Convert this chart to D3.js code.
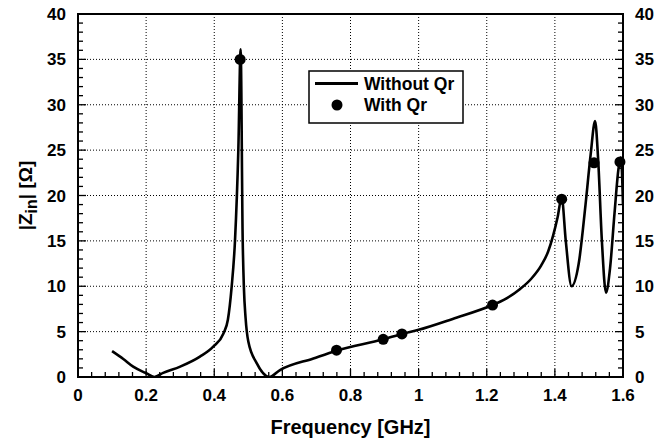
<!DOCTYPE html>
<html>
<head>
<meta charset="utf-8">
<script src="https://cdn.jsdelivr.net/npm/d3@7"></script>
<style>
  body { margin: 0; background: #fff; }
  text { font-family: "Liberation Sans", Arial, sans-serif; font-weight: bold; fill: #000; }
</style>
</head>
<body>
<div id="chart"></div>
<script>
// curve "Without Qr" : frequency [GHz] and |Zin| [ohm]
const FREQ = [0.100, 0.133, 0.162, 0.200, 0.224, 0.250, 0.300, 0.358, 0.397, 0.427,
  0.440, 0.451, 0.461, 0.4707, 0.4775, 0.4835, 0.487, 0.492, 0.500, 0.525,
  0.5617, 0.593, 0.691, 0.759, 0.896, 0.951, 1.000, 1.100, 1.217, 1.250,
  1.298, 1.330, 1.360, 1.380, 1.395, 1.408, 1.420, 1.432, 1.449, 1.470,
  1.490, 1.505, 1.518, 1.527, 1.538, 1.550, 1.562, 1.575, 1.587, 1.594, 1.600];
const ZIN = [2.85, 1.98, 1.14, 0.42, 0.0, 0.45, 1.14, 2.24, 3.34, 4.8,
  6.3, 9.9, 15.1, 25, 36.1, 15.1, 9.9, 6.5, 3.9, 1.5,
  0.0, 0.77, 2.05, 2.9, 4.15, 4.74, 5.2, 6.4, 7.93, 8.5,
  9.7, 10.8, 12.3, 13.8, 15.6, 17.6, 19.8, 15, 10.0, 12.5,
  19, 24.5, 28.2, 24, 15, 9.3, 12, 18, 23, 24.2, 19];

// points "With Qr"
const QR_FREQ = [0.476, 0.759, 0.896, 0.951, 1.217, 1.420, 1.515, 1.591];
const QR_ZIN = [35.0, 2.95, 4.15, 4.74, 7.93, 19.6, 23.6, 23.7];

const X_TICKS = [0, 0.2, 0.4, 0.6, 0.8, 1, 1.2, 1.4, 1.6];
const Y_TICKS = [0, 5, 10, 15, 20, 25, 30, 35, 40];

const WIDTH = 660;
const HEIGHT = 444;
const margin = { top: 14, right: 37, bottom: 67, left: 78 };
const innerW = WIDTH - margin.left - margin.right;
const innerH = HEIGHT - margin.top - margin.bottom;

const x = d3.scaleLinear().domain([0, 1.6]).range([0, innerW]);
const y = d3.scaleLinear().domain([0, 40]).range([innerH, 0]);

const svg = d3.select("#chart").append("svg")
    .attr("width", WIDTH)
    .attr("height", HEIGHT);

const g = svg.append("g")
    .attr("transform", `translate(${margin.left},${margin.top})`);

g.append("clipPath").attr("id", "clip")
  .append("rect")
    .attr("width", innerW)
    .attr("height", innerH);

// dotted grid
g.selectAll(".gx")
  .data(X_TICKS.slice(1, -1))
  .enter().append("line")
    .attr("x1", d => x(d)).attr("x2", d => x(d))
    .attr("y1", 0).attr("y2", innerH)
    .attr("stroke", "#000").attr("stroke-width", 1)
    .attr("stroke-dasharray", "1,2");

g.selectAll(".gy")
  .data(Y_TICKS.slice(1, -1))
  .enter().append("line")
    .attr("x1", 0).attr("x2", innerW)
    .attr("y1", d => y(d)).attr("y2", d => y(d))
    .attr("stroke", "#000").attr("stroke-width", 1)
    .attr("stroke-dasharray", "1,2");

// ticks (inside)
const xMinor = d3.range(0, 1.6001, 0.04);
const yMinor = d3.range(0, 40.001, 1);

g.selectAll(".tx")
  .data(xMinor)
  .enter().append("line")
    .attr("x1", d => x(d)).attr("x2", d => x(d))
    .attr("y1", innerH)
    .attr("y2", (d, i) => innerH - (i % 5 === 0 ? 8 : 5))
    .attr("stroke", "#000").attr("stroke-width", 1.3);

[0, innerW].forEach((px, side) => {
  g.selectAll(".ty" + side)
    .data(yMinor)
    .enter().append("line")
      .attr("x1", px)
      .attr("x2", (d, i) => px + (side === 0 ? 1 : -1) * (i % 5 === 0 ? 8 : 5))
      .attr("y1", d => y(d)).attr("y2", d => y(d))
      .attr("stroke", "#000").attr("stroke-width", 1.3);
});

// frame
g.append("rect")
    .attr("width", innerW)
    .attr("height", innerH)
    .attr("fill", "none")
    .attr("stroke", "#000")
    .attr("stroke-width", 2);

// tick labels
const fmt = d => d3.format("")(d);

g.selectAll(".lx")
  .data(X_TICKS)
  .enter().append("text")
    .attr("x", d => x(d))
    .attr("y", innerH + 24)
    .attr("text-anchor", "middle")
    .style("font-size", "17px")
    .text(fmt);

g.selectAll(".ly")
  .data(Y_TICKS)
  .enter().append("text")
    .attr("x", -12)
    .attr("y", d => y(d) + 6)
    .attr("text-anchor", "end")
    .style("font-size", "17px")
    .text(fmt);

g.selectAll(".lr")
  .data(Y_TICKS)
  .enter().append("text")
    .attr("x", innerW + 12)
    .attr("y", d => y(d) + 6)
    .attr("text-anchor", "start")
    .style("font-size", "17px")
    .text(fmt);

// axis titles
svg.append("text")
    .attr("x", margin.left + innerW / 2)
    .attr("y", 434)
    .attr("text-anchor", "middle")
    .style("font-size", "20px")
    .text("Frequency [GHz]");

const yt = svg.append("text")
    .attr("transform", `translate(32,${margin.top + innerH / 2}) rotate(-90)`)
    .attr("text-anchor", "middle")
    .style("font-size", "19px");
yt.append("tspan").text("|Z");
yt.append("tspan").attr("dy", 5).style("font-size", "16px").text("in");
yt.append("tspan").attr("dy", -5).text("| [Ω]");

// curve
const data = FREQ.map((f, i) => ({ f: f, z: ZIN[i] }));
const line = d3.line()
    .x(d => x(d.f))
    .y(d => y(d.z))
    .curve(d3.curveMonotoneX);

g.append("path")
    .datum(data)
    .attr("clip-path", "url(#clip)")
    .attr("d", line)
    .attr("fill", "none")
    .attr("stroke", "#000")
    .attr("stroke-width", 2.6)
    .attr("stroke-linejoin", "round");

// markers
g.selectAll(".dot")
  .data(QR_FREQ.map((f, i) => ({ f: f, z: QR_ZIN[i] })))
  .enter().append("circle")
    .attr("cx", d => x(d.f))
    .attr("cy", d => y(d.z))
    .attr("r", 5.5)
    .attr("fill", "#000");

// legend
const lg = svg.append("g").attr("transform", "translate(309,71)");
lg.append("rect")
    .attr("width", 154)
    .attr("height", 52)
    .attr("fill", "#fff")
    .attr("stroke", "#000")
    .attr("stroke-width", 1.5);
lg.append("line")
    .attr("x1", 6).attr("x2", 49)
    .attr("y1", 12.5).attr("y2", 12.5)
    .attr("stroke", "#000").attr("stroke-width", 3);
lg.append("circle")
    .attr("cx", 28).attr("cy", 34)
    .attr("r", 5.5).attr("fill", "#000");
lg.append("text")
    .attr("x", 55).attr("y", 18.5)
    .style("font-size", "17.5px")
    .text("Without Qr");
lg.append("text")
    .attr("x", 55).attr("y", 39.5)
    .style("font-size", "17.5px")
    .text("With Qr");
</script>
</body>
</html>
